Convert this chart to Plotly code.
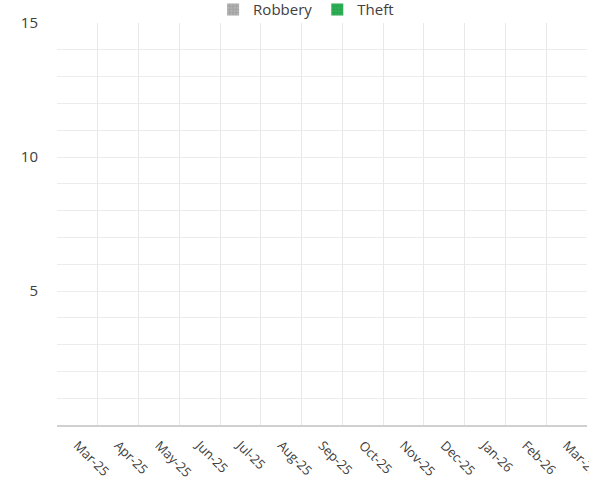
import plotly.graph_objects as go

months = ["Mar-25", "Apr-25", "May-25", "Jun-25", "Jul-25", "Aug-25", "Sep-25",
          "Oct-25", "Nov-25", "Dec-25", "Jan-26", "Feb-26", "Mar-26"]
robbery = [0, 0, 0, 0, 0, 0, 0, 0, 0, 0, 0, 0, 0]
theft = [0, 0, 0, 0, 0, 0, 0, 0, 0, 0, 0, 0, 0]
y_tick_vals = [5, 10, 15]

fig = go.Figure()
fig.add_trace(go.Bar(x=months, y=robbery, name="Robbery",
                     marker=dict(color="#a6a6a6", line=dict(width=0),
                                 pattern=dict(shape=".", fgcolor="#d0d0d0", size=4))))
fig.add_trace(go.Bar(x=months, y=theft, name="Theft",
                     marker=dict(color="#22a64a", line=dict(width=0),
                                 pattern=dict(shape="+", fgcolor="#7fd89a", size=4))))

font_family = "Open Sans, Liberation Sans, sans-serif"
fig.update_layout(
    barmode="stack",
    width=589, height=482,
    margin=dict(l=57, r=2, t=23, b=57, autoexpand=False),
    paper_bgcolor="white", plot_bgcolor="white",
    font=dict(family=font_family, color="#404040"),
    legend=dict(orientation="h", x=0.47, xanchor="center", y=1.033, yanchor="middle",
                font=dict(size=15, color="#404040"), traceorder="normal",
                itemwidth=30, bgcolor="rgba(0,0,0,0)"),
    showlegend=True,
)
fig.update_xaxes(
    type="category", tickangle=45, tickson="boundaries", automargin=False,
    showgrid=True, gridcolor="#e8e8e8", gridwidth=1,
    showline=True, linecolor="#d0d0d0", linewidth=1.5,
    ticks="", tickfont=dict(size=13, color="#404040"), ticklabelstandoff=6,
)
fig.update_yaxes(
    range=[0, 15], tickvals=y_tick_vals, ticktext=[str(v) for v in y_tick_vals],
    automargin=False,
    showgrid=True, gridcolor="#ececec", gridwidth=1,
    minor=dict(dtick=1, showgrid=True, gridcolor="#ececec", gridwidth=1),
    showline=False, zeroline=False, ticks="",
    tickfont=dict(size=15, color="#404040"), ticklabelstandoff=18,
)

fig.write_html("out.html", config={"displayModeBar": False},
               post_script="document.body.style.margin='0';")
